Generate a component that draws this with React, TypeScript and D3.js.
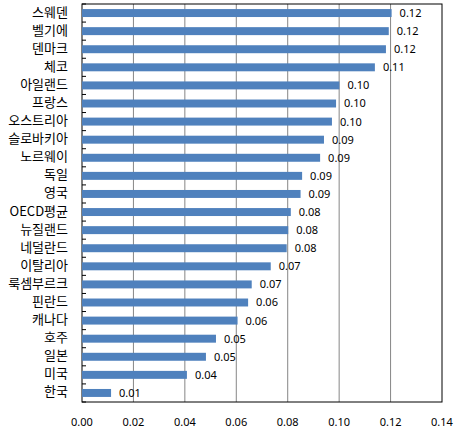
import * as d3 from "d3";
import React from "react";

const countries = [
  "스웨덴", "벨기에", "덴마크", "체코", "아일랜드", "프랑스", "오스트리아",
  "슬로바키아", "노르웨이", "독일", "영국", "OECD평균", "뉴질랜드", "네덜란드",
  "이탈리아", "룩셈부르크", "핀란드", "캐나다", "호주", "일본", "미국", "한국",
];
const values = [
  0.1204, 0.1193, 0.1182, 0.1139, 0.1001, 0.0988, 0.0972,
  0.0941, 0.0926, 0.0856, 0.0850, 0.0812, 0.0802, 0.0796,
  0.0734, 0.0660, 0.0646, 0.0605, 0.0521, 0.0482, 0.0408, 0.0113,
];
const xTicks = [0, 0.02, 0.04, 0.06, 0.08, 0.1, 0.12, 0.14];

const W = 457;
const H = 433;
const left = 82;
const right = 442;
const top = 4;
const bottom = 402;

export default function App() {
  const x = d3.scaleLinear().domain([0, 0.14]).range([left, right]);
  const y = d3.scaleBand().domain(countries).range([top, bottom]).paddingInner(0.56).paddingOuter(0.28);
  const band = d3.scaleBand().domain(countries).range([top, bottom]);
  const fmt = d3.format(".2f");
  const bandEdges = countries.map((c) => band(c)!).concat([bottom]);

  return (
    <svg width={W} height={H} style={{ position: "absolute", left: 0, top: 0, background: "#fff" }}>
      {xTicks.slice(1, -1).map((t) => (
        <line key={t} x1={x(t)} x2={x(t)} y1={top} y2={bottom} stroke="#868686" strokeWidth={1} />
      ))}
      <rect x={left} y={top} width={right - left} height={bottom - top} fill="none" stroke="#000" strokeWidth={1} />
      {bandEdges.map((e, i) => (
        <line key={i} x1={left} x2={left + 4} y1={e} y2={e} stroke="#000" />
      ))}
      {countries.map((c, i) => (
        <g key={c}>
          <rect x={x(0)} y={y(c)} width={x(values[i]) - x(0)} height={y.bandwidth()} fill="#4F81BD" />
          <text
            x={x(values[i]) + 8}
            y={y(c)! + y.bandwidth() / 2 + 1}
            dominantBaseline="middle"
            fontFamily="Noto Sans, sans-serif"
            fontSize={11}
            fill="#000"
          >
            {fmt(values[i])}
          </text>
          <text
            x={68}
            y={band(c)! + band.bandwidth() / 2}
            dominantBaseline="middle"
            textAnchor="end"
            fontFamily="Noto Sans CJK KR, sans-serif"
            fontSize={13}
            fill="#000"
          >
            {c}
          </text>
        </g>
      ))}
      {xTicks.map((t) => (
        <text
          key={t}
          x={x(t)}
          y={423}
          dominantBaseline="middle"
          textAnchor="middle"
          fontFamily="Noto Sans, sans-serif"
          fontSize={11}
          fill="#000"
        >
          {fmt(t)}
        </text>
      ))}
    </svg>
  );
}
